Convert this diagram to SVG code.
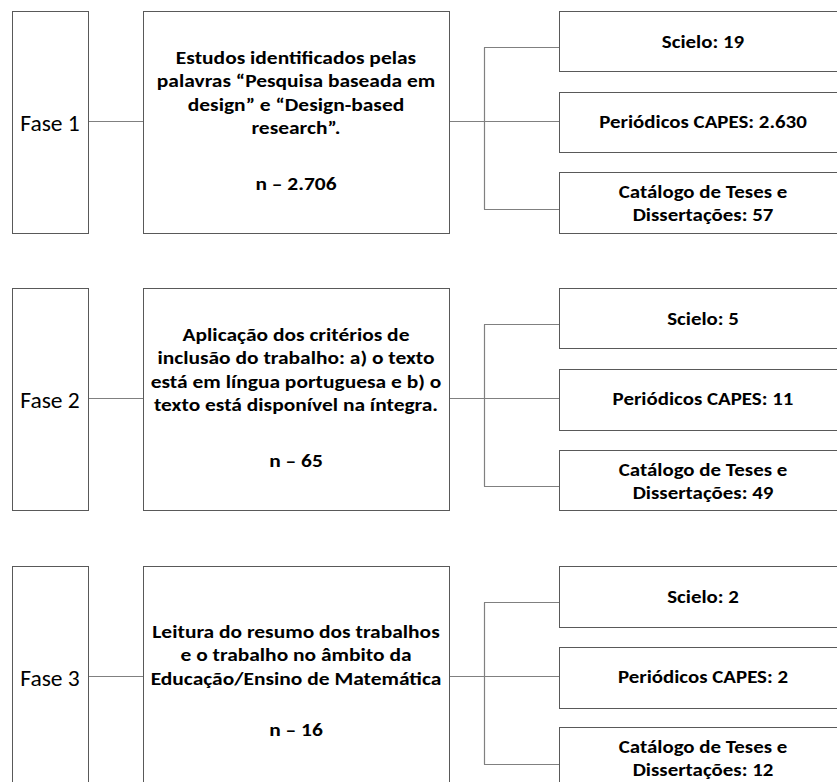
<svg xmlns="http://www.w3.org/2000/svg" width="837" height="782" viewBox="0 0 837 782">
<style>
.box{fill:#fff;stroke:#595959;stroke-width:1}
.ln{fill:none;stroke:#808080;stroke-width:1.2}
.t{font-family:Carlito,Lato,"Liberation Sans",sans-serif;font-weight:bold;font-size:19px;fill:#000;text-anchor:middle}
.f{font-family:Carlito,Lato,"Liberation Sans",sans-serif;font-size:22px;fill:#000;text-anchor:middle}
</style>
<rect width="837" height="782" fill="#fff"/>
<g id="connectors">
<path class="ln" d="M88 121.5H143M449 121.5H559M484.5 47.5V209.5M484 47.5H559M484 209.5H559"/>
<path class="ln" d="M88 398.5H143M449 398.5H559M484.5 324.5V486.5M484 324.5H559M484 486.5H559"/>
<path class="ln" d="M88 676.5H143M449 676.5H559M484.5 602.5V764.5M484 602.5H559M484 764.5H559"/>
</g>
<g id="fase1">
<rect class="box" x="12.5" y="11.5" width="76" height="222"/>
<text class="f" x="50" y="131" transform="translate(50 0) scale(1.07 1) translate(-50 0)">Fase 1</text>
</g>
<g id="estudos">
<rect class="box" x="143.5" y="11.5" width="306" height="222"/>
<g transform="translate(296 0) scale(1.13 1)">
<text class="t" x="0" y="64">Estudos identificados pelas</text>
<text class="t" x="0" y="87.5">palavras “Pesquisa baseada em</text>
<text class="t" x="0" y="111">design” e “Design-based</text>
<text class="t" x="0" y="134.5">research”.</text>
<text class="t" x="0" y="190">n – 2.706</text>
</g>
</g>
<g id="scielo1">
<rect class="box" x="559.5" y="11.5" width="290" height="60"/>
<text class="t" x="0" y="48" transform="translate(703 0) scale(1.1 1)">Scielo: 19</text>
</g>
<g id="capes1">
<rect class="box" x="559.5" y="92.5" width="290" height="60"/>
<text class="t" x="0" y="128" transform="translate(703 0) scale(1.1 1)">Periódicos CAPES: 2.630</text>
</g>
<g id="catalogo1">
<rect class="box" x="559.5" y="172.5" width="290" height="61"/>
<g transform="translate(703 0) scale(1.1 1)">
<text class="t" x="0" y="198">Catálogo de Teses e</text>
<text class="t" x="0" y="221">Dissertações: 57</text>
</g>
</g>
<g id="fase2">
<rect class="box" x="12.5" y="288.5" width="76" height="222"/>
<text class="f" x="50" y="408" transform="translate(50 0) scale(1.07 1) translate(-50 0)">Fase 2</text>
</g>
<g id="aplicacao">
<rect class="box" x="143.5" y="288.5" width="306" height="222"/>
<g transform="translate(296 0) scale(1.13 1)">
<text class="t" x="0" y="341">Aplicação dos critérios de</text>
<text class="t" x="0" y="364.5">inclusão do trabalho: a) o texto</text>
<text class="t" x="0" y="388">está em língua portuguesa e b) o</text>
<text class="t" x="0" y="411.5">texto está disponível na íntegra.</text>
<text class="t" x="0" y="467">n – 65</text>
</g>
</g>
<g id="scielo2">
<rect class="box" x="559.5" y="288.5" width="290" height="60"/>
<text class="t" x="0" y="325" transform="translate(703 0) scale(1.1 1)">Scielo: 5</text>
</g>
<g id="capes2">
<rect class="box" x="559.5" y="369.5" width="290" height="61"/>
<text class="t" x="0" y="405" transform="translate(703 0) scale(1.1 1)">Periódicos CAPES: 11</text>
</g>
<g id="catalogo2">
<rect class="box" x="559.5" y="450.5" width="290" height="60"/>
<g transform="translate(703 0) scale(1.1 1)">
<text class="t" x="0" y="476">Catálogo de Teses e</text>
<text class="t" x="0" y="499">Dissertações: 49</text>
</g>
</g>
<g id="fase3">
<rect class="box" x="12.5" y="566.5" width="76" height="222"/>
<text class="f" x="50" y="686" transform="translate(50 0) scale(1.07 1) translate(-50 0)">Fase 3</text>
</g>
<g id="leitura">
<rect class="box" x="143.5" y="566.5" width="306" height="222"/>
<g transform="translate(296 0) scale(1.13 1)">
<text class="t" x="0" y="638">Leitura do resumo dos trabalhos</text>
<text class="t" x="0" y="661.5">e o trabalho no âmbito da</text>
<text class="t" x="0" y="685">Educação/Ensino de Matemática</text>
<text class="t" x="0" y="736">n – 16</text>
</g>
</g>
<g id="scielo3">
<rect class="box" x="559.5" y="566.5" width="290" height="61"/>
<text class="t" x="0" y="603" transform="translate(703 0) scale(1.1 1)">Scielo: 2</text>
</g>
<g id="capes3">
<rect class="box" x="559.5" y="647.5" width="290" height="61"/>
<text class="t" x="0" y="683" transform="translate(703 0) scale(1.1 1)">Periódicos CAPES: 2</text>
</g>
<g id="catalogo3">
<rect class="box" x="559.5" y="727.5" width="290" height="61"/>
<g transform="translate(703 0) scale(1.1 1)">
<text class="t" x="0" y="753">Catálogo de Teses e</text>
<text class="t" x="0" y="776">Dissertações: 12</text>
</g>
</g>
</svg>
